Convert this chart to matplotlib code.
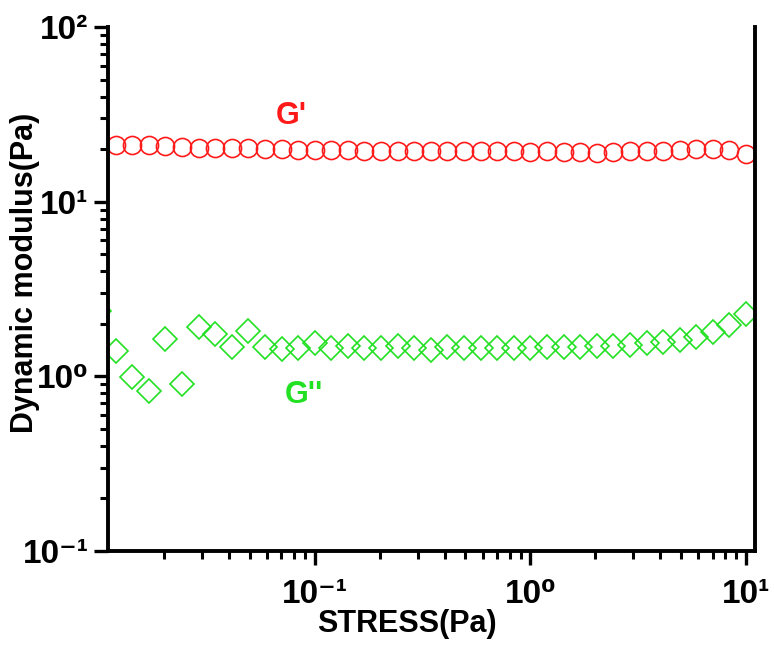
import math
import matplotlib
matplotlib.use("Agg")
import matplotlib.pyplot as plt
from matplotlib.ticker import LogLocator, FuncFormatter, NullFormatter
from matplotlib import font_manager

fams = {f.name for f in font_manager.fontManager.ttflist}
FONT = 'Liberation Sans Narrow' if 'Liberation Sans Narrow' in fams else 'Liberation Sans'

# ---- data ----
stress = [0.01, 0.01194, 0.01425, 0.01701, 0.02031, 0.02424, 0.02894, 0.03455,
          0.04125, 0.04924, 0.05878, 0.07017, 0.08377, 0.1, 0.1194, 0.1425,
          0.1701, 0.2031, 0.2424, 0.2894, 0.3455, 0.4125, 0.4924, 0.5878,
          0.7017, 0.8377, 1.0, 1.194, 1.425, 1.701, 2.031, 2.424, 2.894,
          3.455, 4.125, 4.924, 5.878, 7.017, 8.377, 10.0]
g_storage = [21.5, 21.2, 21.0, 21.0, 20.7, 20.5, 20.3, 20.3, 20.4, 20.3,
             20.1, 20.0, 19.8, 19.8, 19.8, 19.8, 19.6, 19.6, 19.6, 19.6,
             19.6, 19.4, 19.4, 19.4, 19.4, 19.4, 19.2, 19.4, 19.2, 19.2,
             19.0, 19.2, 19.4, 19.4, 19.6, 19.8, 20.1, 20.1, 19.8, 18.7]
g_loss = [2.36, 1.40, 0.99, 0.82, 1.64, 0.90, 1.92, 1.74, 1.48, 1.81,
          1.48, 1.43, 1.46, 1.55, 1.45, 1.50, 1.45, 1.45, 1.50, 1.45,
          1.42, 1.48, 1.45, 1.45, 1.45, 1.45, 1.45, 1.47, 1.47, 1.47,
          1.50, 1.50, 1.52, 1.55, 1.58, 1.62, 1.68, 1.80, 1.98, 2.28]

RED = '#ff1a1a'
GREEN = '#22e022'

SUP = {'-': '\u207b', '0': '\u2070', '1': '\u00b9', '2': '\u00b2', '3': '\u00b3'}

fig = plt.figure(figsize=(7.74, 6.49), dpi=100)
ax = fig.add_axes([108/774, 1-551/649, (755-108)/774, (551-27)/649])

ax.plot(stress, g_storage, linestyle='none', marker='o', markersize=13,
        markerfacecolor='none', markeredgecolor=RED, markeredgewidth=1.2)
ax.plot(stress, g_loss, linestyle='none', marker='D', markersize=12.5,
        markerfacecolor='none', markeredgecolor=GREEN, markeredgewidth=1.2)

ax.set_xscale('log')
ax.set_yscale('log')
ax.set_xlim(0.011, 11.0)
ax.set_ylim(0.1, 100)

for side in ['left', 'bottom', 'right']:
    ax.spines[side].set_linewidth(2.8)
ax.spines['top'].set_visible(False)

ax.xaxis.set_major_locator(LogLocator(base=10, numticks=10))
ax.xaxis.set_minor_locator(LogLocator(base=10, subs=range(2, 10), numticks=20))
ax.yaxis.set_major_locator(LogLocator(base=10, numticks=10))
ax.yaxis.set_minor_locator(LogLocator(base=10, subs=range(2, 10), numticks=20))
ax.xaxis.set_minor_formatter(NullFormatter())
ax.yaxis.set_minor_formatter(NullFormatter())

def fmt(v, pos):
    e = int(round(math.log10(v)))
    return '10' + ''.join(SUP[c] for c in str(e))

ax.xaxis.set_major_formatter(FuncFormatter(fmt))
ax.yaxis.set_major_formatter(FuncFormatter(fmt))

ax.tick_params(which='major', direction='out', length=10, width=2.4,
               labelsize=24, top=False, right=False)
ax.tick_params(axis='x', which='major', pad=10)
ax.tick_params(axis='y', which='major', pad=4)
ax.tick_params(which='minor', direction='out', length=5.5, width=2.2,
               top=False, right=False)
for lab in ax.get_xticklabels() + ax.get_yticklabels():
    lab.set_family([FONT, 'DejaVu Sans'])
    lab.set_fontweight('bold')

ax.set_xlabel('STRESS(Pa)', fontsize=22, fontweight='bold', family=FONT)
ax.set_ylabel('Dynamic modulus(Pa)', fontsize=22, fontweight='bold', family=FONT)
ax.xaxis.set_label_coords(0.462, -0.11)
ax.yaxis.set_label_coords(-0.105, 0.53)

ax.text(0.283, 0.83, "G'", transform=ax.transAxes, color=RED, fontsize=22,
        fontweight='bold', family=FONT, ha='center', va='center')
ax.text(0.302, 0.297, "G''", transform=ax.transAxes, color=GREEN, fontsize=22,
        fontweight='bold', family=FONT, ha='center', va='center')

fig.savefig('out.png', dpi=100)
